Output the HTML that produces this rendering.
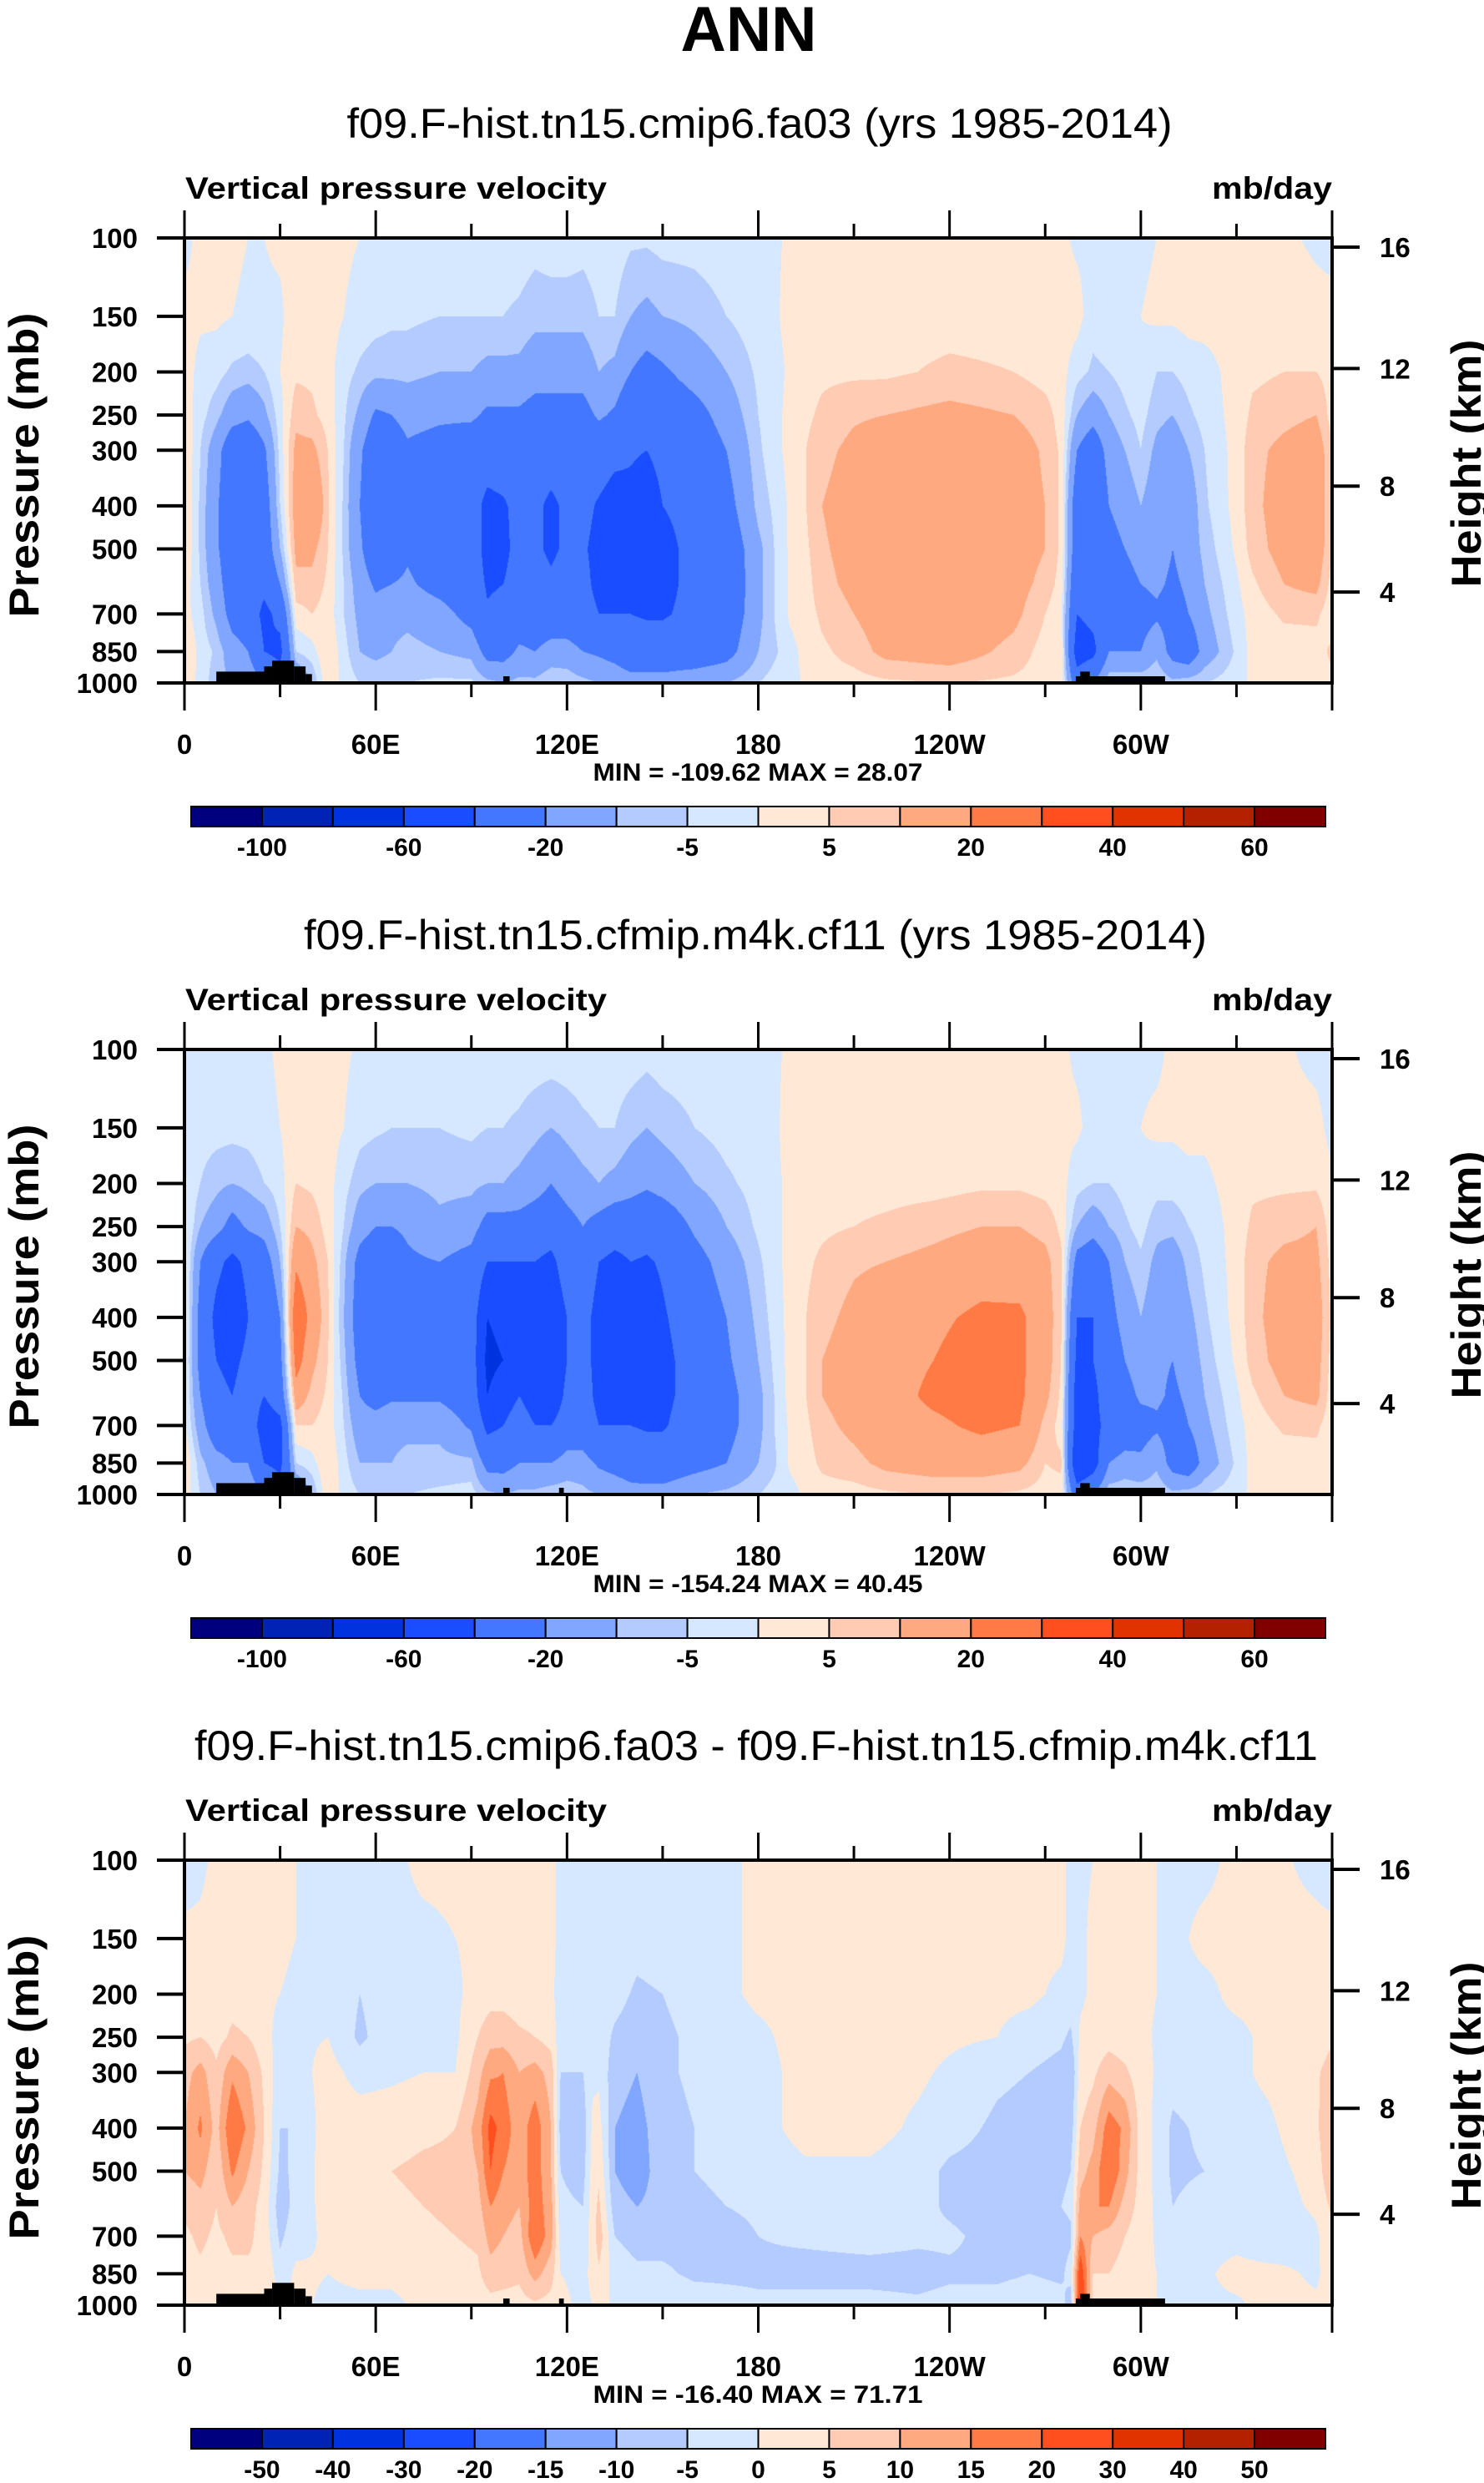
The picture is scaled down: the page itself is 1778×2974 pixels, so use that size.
<!DOCTYPE html>
<html><head><meta charset="utf-8">
<style>
html,body{margin:0;padding:0;background:#fff;}
#wrap{position:relative;width:1778px;height:2974px;overflow:hidden;background:#fff;}
canvas{position:absolute;}
svg{position:absolute;left:0;top:0;}
text{font-family:"Liberation Sans",Arial,sans-serif;fill:#000;}
</style></head>
<body>
<div id="wrap">
<canvas id="c1" width="1375" height="533" style="left:221px;top:285px"></canvas>
<canvas id="c2" width="1375" height="533" style="left:221px;top:1257px"></canvas>
<canvas id="c3" width="1375" height="533" style="left:221px;top:2228px"></canvas>
<svg id="ov" width="1778" height="2974"></svg>
</div>
<script>
// ---------------- data ----------------
const PLEV=[100,150,200,250,300,400,500,600,700,850,1000];
const P_TICKS=[100,150,200,250,300,400,500,700,850,1000];
const LON_TICKS=[0,60,120,180,240,300];
const LON_LABELS=['0','60E','120E','180','120W','60W'];
const H_TICKS=['16','12','8','4'];
const H_TICK_P=[103.5,194.0,356.5,616.6];
const LEV_A=[-100,-80,-60,-40,-20,-10,-5,0,5,10,20,30,40,50,60];
const LEV_D=[-50,-40,-30,-20,-15,-10,-5,0,5,10,15,20,30,40,50];
const CB_A_IDX=[0,2,4,6,8,10,12,14];
const CB_D_IDX=[0,1,2,3,4,5,6,7,8,9,10,11,12,13,14];
const COLORS=['#00007f','#0022b5','#0033e0','#1a4dff','#4477ff','#80a6ff','#b3cbff','#d6e8ff','#ffe9d6','#ffcbb3','#ffa980','#ff7a45','#ff4f1f','#e03300','#b32100','#800000'];
const TOPO=[[10,25,943],[25,27.5,918],[27.5,34.4,891],[34.4,38,918],[38,40,955],[100,102,966],[279.6,307.6,966],[281,284,943]];
const TOPO_EXTRA=[117.5,119,966];

const LONS1=[0,5,10,15,20,25,30,35,40,45,50,55,60,65,70,80,90,95,100,105,110,115,120,125,130,135,140,145,150,160,170,180,185,190,195,200,210,220,240,260,270,275,280,285,290,295,300,305,310,315,320,330,335,345,355,360];
const VALS1=[
[-2,2,3,3,5,5,5,3,2,6,4],[2,1,-2,-3,-5,-6,-6,-5,-3,-2,-2],[2,1,-3,-8,-15,-18,-18,-15,-12,-6,-8],[1,0,-6,-15,-30,-32,-30,-28,-25,-15,-10],[0,-1,-7,-18,-32,-35,-33,-30,-28,-20,-10],[0,-1,-5,-12,-22,-28,-30,-35,-45,-40,-20],[1,-1,0,-2,-3,-5,-10,-20,-35,-45,-30],[2,3,4,8,12,14,12,8,3,-5,-20],[3,3,4,6,12,20,12,8,5,-2,-10],[3,2,2,3,5,6,5,4,3,5,5],
[1,0,-3,-4,-5,-6,-6,-5,-5,-3,-2],[0,-2,-6,-12,-18,-20,-18,-14,-12,-10,-5],[-1,-3,-8,-22,-30,-32,-30,-22,-15,-12,-5],[-1,-4,-8,-20,-28,-30,-28,-20,-12,-10,-5],[-1,-4,-8,-16,-22,-25,-22,-18,-12,-8,-5],[-2,-5,-10,-18,-25,-30,-30,-25,-15,-10,-4],[-2,-5,-10,-18,-28,-32,-32,-30,-25,-12,-4],[-2,-5,-12,-22,-30,-45,-45,-42,-38,-25,-8],[-2,-5,-12,-22,-30,-42,-45,-40,-35,-25,-10],[-2,-6,-12,-22,-32,-35,-33,-32,-28,-18,-8],
[-3,-8,-15,-25,-35,-38,-38,-35,-30,-20,-8],[-2,-8,-15,-25,-35,-42,-42,-38,-30,-15,-5],[-2,-8,-15,-25,-35,-38,-38,-35,-30,-15,-6],[-3,-8,-15,-25,-32,-35,-38,-35,-32,-20,-8],[-2,-5,-10,-18,-30,-42,-45,-45,-40,-22,-10],[-2,-5,-12,-22,-35,-48,-50,-45,-40,-25,-12],[-4,-10,-20,-32,-38,-45,-48,-48,-40,-30,-15],[-4,-12,-25,-35,-40,-50,-50,-50,-42,-30,-15],[-3,-10,-22,-30,-35,-40,-45,-45,-42,-30,-15],[-3,-8,-15,-25,-30,-35,-35,-35,-35,-30,-12],
[-2,-5,-10,-15,-20,-25,-30,-32,-30,-25,-10],[-1,-2,-4,-5,-6,-8,-12,-12,-12,-10,-5],[-1,-1,-2,-2,-2,-4,-5,-5,-5,-6,-3],[1,2,1,2,2,1,1,1,1,-2,-2],[2,3,3,4,5,5,4,3,3,2,1],[2,3,4,6,8,10,9,8,6,4,3],[2,3,4,9,12,14,13,12,10,7,3],[2,3,4,10,15,16,15,15,14,12,4],[2,3,6,12,15,16,16,16,16,14,5],[2,3,5,10,14,14,14,13,12,8,4],
[1,2,3,7,9,10,10,8,5,3,3],[1,2,2,3,4,4,4,3,1,4,3],[-1,2,-3,-10,-20,-30,-30,-35,-40,-50,-30],[-1,-3,-6,-15,-30,-38,-30,-30,-35,-45,-20],[-1,-2,-5,-10,-15,-20,-25,-30,-35,-20,-5],[-1,-1,-3,-6,-10,-15,-20,-25,-30,-20,-5],[-1,0,-1,-3,-5,-10,-15,-20,-25,-20,-5],[0,1,-5,-8,-12,-15,-15,-18,-22,-12,-4],[1,1,-5,-10,-15,-20,-20,-22,-25,-25,-8],[1,2,-3,-6,-10,-15,-15,-18,-20,-30,-6],
[1,2,-2,-3,-5,-6,-8,-10,-12,-15,-5],[1,2,2,2,2,2,1,-1,-2,-4,-2],[2,3,4,6,8,8,7,4,2,2,1],[1,3,5,8,12,14,13,10,6,2,1],[-1,2,5,10,15,16,15,12,6,3,2],[-2,2,3,3,5,5,5,3,2,6,4]];

const LONS2=[0,5,10,15,20,25,30,35,40,45,50,55,60,65,70,80,90,95,100,105,110,115,120,125,130,135,140,145,150,160,170,180,185,190,195,200,210,220,235,250,262,270,275,280,285,290,295,300,305,310,315,320,330,335,345,355,360];
const VALS2=[
[-3,-2,1,2,3,4,3,2,2,5,3],[-2,-3,-5,-10,-20,-25,-25,-20,-15,-8,-5],[-2,-3,-8,-15,-35,-45,-40,-35,-30,-15,-10],[-2,-3,-10,-25,-45,-55,-45,-40,-30,-20,-10],[-1,-3,-8,-18,-35,-40,-35,-30,-28,-20,-10],[-1,-2,-5,-15,-28,-40,-40,-40,-50,-40,-20],[1,0,-2,-5,-10,-20,-25,-30,-45,-45,-30],[2,3,5,10,18,30,25,15,5,-5,-20],[3,3,4,8,12,16,12,8,5,-2,-10],[3,2,2,3,5,6,5,4,3,5,5],
[1,0,-3,-5,-8,-10,-8,-6,-5,-3,-2],[-1,-3,-8,-15,-25,-28,-25,-20,-15,-10,-5],[-2,-4,-10,-20,-30,-32,-30,-25,-15,-10,-5],[-2,-5,-10,-20,-28,-30,-30,-22,-12,-10,-5],[-2,-5,-10,-18,-22,-28,-25,-22,-12,-8,-5],[-2,-5,-8,-12,-20,-25,-25,-22,-12,-8,-4],[-2,-4,-8,-15,-25,-30,-30,-28,-22,-8,-3],[-2,-5,-10,-25,-40,-60,-65,-60,-45,-25,-8],[-2,-5,-10,-25,-40,-55,-60,-50,-40,-25,-10],[-2,-6,-12,-25,-40,-45,-45,-40,-30,-20,-8],
[-2,-8,-15,-28,-40,-50,-55,-50,-40,-20,-8],[-2,-10,-20,-30,-45,-55,-60,-55,-40,-20,-6],[-2,-8,-15,-25,-30,-40,-40,-35,-30,-15,-6],[-2,-6,-12,-20,-30,-35,-35,-32,-30,-15,-8],[-2,-5,-10,-25,-40,-45,-45,-45,-40,-22,-10],[-2,-5,-12,-30,-45,-50,-50,-45,-40,-25,-12],[-2,-8,-15,-30,-40,-45,-45,-45,-40,-28,-15],[-3,-10,-18,-32,-42,-48,-50,-48,-42,-30,-15],[-2,-8,-15,-30,-38,-42,-45,-45,-42,-30,-15],[-2,-5,-10,-18,-25,-30,-32,-32,-30,-25,-10],
[-2,-3,-6,-10,-15,-20,-22,-25,-25,-20,-8],[-1,-2,-3,-4,-6,-8,-10,-12,-12,-10,-5],[-1,-1,-1,-2,-2,-3,-4,-5,-5,-6,-3],[1,2,1,2,2,2,2,2,1,1,-2],[2,3,3,3,4,5,5,5,4,3,1],[2,3,3,4,6,8,10,10,8,6,3],[2,3,3,5,9,12,14,14,12,8,3],[2,3,3,6,10,15,16,16,16,12,4],[2,3,3,8,12,18,20,22,18,14,5],[2,3,4,10,15,22,25,25,22,14,5],
[2,3,4,10,14,22,22,22,20,12,4],[1,2,3,8,12,14,14,12,8,5,3],[1,1,2,4,6,6,5,4,3,6,3],[-1,1,-3,-10,-25,-40,-45,-50,-50,-60,-30],[-1,-2,-5,-15,-30,-40,-40,-45,-45,-50,-20],[-1,-2,-5,-10,-20,-25,-30,-30,-35,-20,-5],[-1,-1,-3,-6,-10,-15,-20,-25,-30,-15,-5],[-1,0,-1,-3,-6,-10,-14,-18,-25,-18,-5],[-1,1,-3,-8,-12,-15,-18,-18,-22,-12,-4],[1,1,-3,-8,-15,-20,-20,-22,-25,-25,-8],
[1,2,-2,-5,-8,-12,-15,-18,-20,-30,-6],[1,1,-1,-3,-4,-6,-8,-10,-12,-15,-5],[1,2,2,2,2,2,1,-1,-2,-4,-2],[1,3,4,6,8,8,7,4,2,2,1],[1,2,4,8,12,14,13,10,6,2,1],[-2,2,4,10,12,14,13,12,6,3,2],[-3,-2,1,2,3,4,3,2,2,5,3]];

const LONS3=[0,5,10,15,20,25,30,35,45,55,65,75,85,92,96,100,105,110,115,118,125,128,130,135,142,150,160,170,180,195,215,230,240,255,265,275,278,281,285,290,295,300,310,320,330,340,355,360];
const VALS3=[
[-2,1,2,4,8,10,10,6,4,3,2],[-1,1,2,5,12,16,12,8,6,4,3],[1,2,2,3,6,8,6,5,4,3,2],[1,2,3,6,14,20,16,10,6,4,2],[1,2,2,5,10,14,10,7,6,4,2],[1,1,1,2,4,5,4,3,3,5,3],[1,1,0,-2,-3,-5,-6,-8,-6,-3,1],[0,0,-1,-1,-2,-5,-4,-3,-2,1,1],[-1,-1,-1,0,2,3,3,2,1,0,-1],[-1,-2,-5,-6,-2,3,5,3,1,1,-1],
[-1,-1,-2,-2,-1,3,5,4,2,1,-1],[1,-1,-1,-1,0,4,6,5,4,2,1],[1,0,-1,-1,0,5,6,6,5,3,0],[1,1,2,5,8,12,10,8,6,4,2],[1,2,3,8,14,22,20,15,12,8,3],[1,2,3,8,15,18,15,12,10,7,3],[1,1,2,6,10,12,12,10,8,6,3],[1,1,2,5,12,18,18,18,20,12,4],[1,1,1,3,8,10,10,12,12,7,3],[-1,-1,-2,-3,-5,-7,-5,-4,-2,0,1],
[-1,-1,-2,-3,-5,-8,-7,-5,-3,-1,-1],[-1,-1,-1,-2,-1,1,2,3,2,1,0],[-1,-1,-2,-2,-1,2,4,6,8,4,2],[-1,-1,-3,-6,-8,-10,-10,-8,-5,-2,-1],[-1,-3,-6,-8,-10,-12,-13,-10,-7,-4,-1],[-1,-2,-5,-6,-6,-7,-7,-8,-7,-4,-1],[-1,-1,-3,-4,-4,-5,-5,-6,-7,-6,-2],[-1,-1,-1,-2,-2,-3,-4,-5,-7,-6,-3],[1,1,1,-1,-2,-2,-3,-4,-5,-6,-4],[1,1,1,2,2,2,-1,-3,-4,-7,-3],
[1,1,2,2,2,2,-1,-2,-3,-7,-3],[1,1,1,2,1,-1,-3,-3,-4,-7,-4],[1,1,1,1,-1,-3,-6,-6,-4,-6,-3],[1,1,1,0,-4,-6,-7,-8,-7,-6,-3],[1,1,1,-2,-5,-7,-8,-7,-9,-5,-2],[1,1,-1,-4,-7,-8,-6,-5,-7,-6,-3],[-1,-1,-2,-6,-10,-8,-5,-4,-6,-3,-8],[-1,-1,-1,1,2,5,8,12,15,25,30],[0,1,1,2,4,8,12,15,10,5,3],[0,1,1,3,8,18,20,15,8,5,3],
[1,1,1,2,6,14,12,8,5,3,2],[1,1,1,1,2,3,3,3,2,1,1],[-1,-1,-1,-2,-3,-6,-6,-5,-3,-1,-1],[-1,1,-1,-1,-2,-4,-5,-3,-2,-1,-1],[1,1,1,-1,-1,-2,-2,-3,-2,2,-1],[1,1,1,1,1,-1,-2,-3,-5,2,2],[-1,1,1,1,4,4,2,1,-1,-1,1],[-2,1,2,4,8,10,10,6,4,3,2]];

const SUBTITLES=['f09.F-hist.tn15.cmip6.fa03 (yrs 1985-2014)','f09.F-hist.tn15.cfmip.m4k.cf11 (yrs 1985-2014)','f09.F-hist.tn15.cmip6.fa03 - f09.F-hist.tn15.cfmip.m4k.cf11'];
const MINMAX=['MIN = -109.62  MAX =  28.07','MIN = -154.24  MAX =  40.45','MIN = -16.40  MAX = 71.71'];

// ---------------- geometry ----------------
const X0=221, W=1375, H=533;
const TOPS=[285,1257,2228];
function xOf(lon){return X0+lon/360*W;}
function yOf(p,top){return top+Math.log10(p/100)*H;}
function hex(c){return [parseInt(c.substr(1,2),16),parseInt(c.substr(3,2),16),parseInt(c.substr(5,2),16)];}
const RGB=COLORS.map(hex);

function drawField(cid,lons,vals,levs){
  const cv=document.getElementById(cid), ctx=cv.getContext('2d');
  const img=ctx.createImageData(W,H), d=img.data;
  const lp=PLEV.map(p=>Math.log10(p));
  const rowSeg=[];
  for(let y=0;y<H;y++){
    const l=2+(y+0.5)/H;
    let k=0; while(k<lp.length-2 && l>lp[k+1]) k++;
    let t=(l-lp[k])/(lp[k+1]-lp[k]); t=Math.max(0,Math.min(1,t));
    rowSeg.push([k,t]);
  }
  for(let x=0;x<W;x++){
    const lon=(x+0.5)/W*360;
    let j=0; while(j<lons.length-2 && lon>lons[j+1]) j++;
    let s=(lon-lons[j])/(lons[j+1]-lons[j]); s=Math.max(0,Math.min(1,s));
    const col=PLEV.map((_,i)=>vals[j][i]*(1-s)+vals[j+1][i]*s);
    for(let y=0;y<H;y++){
      const [k,t]=rowSeg[y];
      const v=col[k]*(1-t)+col[k+1]*t;
      let ci=0; while(ci<levs.length && v>=levs[ci]) ci++;
      const c=RGB[ci], o=(y*W+x)*4;
      d[o]=c[0];d[o+1]=c[1];d[o+2]=c[2];d[o+3]=255;
    }
  }
  ctx.putImageData(img,0,0);
}
drawField('c1',LONS1,VALS1,LEV_A);
drawField('c2',LONS2,VALS2,LEV_A);
drawField('c3',LONS3,VALS3,LEV_D);

// ---------------- svg overlay ----------------
const NS='http://www.w3.org/2000/svg';
const svg=document.getElementById('ov');
function mk(tag,attrs,parent){const e=document.createElementNS(NS,tag);for(const k in attrs)e.setAttribute(k,attrs[k]);(parent||svg).appendChild(e);return e;}
function txt(s,attrs,parent){const e=mk('text',attrs,parent);e.textContent=s;return e;}

let t=txt('ANN',{x:897,y:61,'text-anchor':'middle','font-size':76,'font-weight':'bold',textLength:163,lengthAdjust:'spacingAndGlyphs'});



const SUB_LEN=[989,1082,1346], SUB_X=[910,905,906];
for(let pi=0;pi<3;pi++){
  const top=TOPS[pi], bot=top+H;
  const g=mk('g',{});
  
  
  let e=txt(SUBTITLES[pi],{x:SUB_X[pi],y:top-120,'text-anchor':'middle','font-size':50,textLength:SUB_LEN[pi],lengthAdjust:'spacingAndGlyphs'},g);
  
  
  e=txt('Vertical pressure velocity',{x:222,y:top-47,'font-size':37,'font-weight':'bold',textLength:505,lengthAdjust:'spacingAndGlyphs'},g);
  
  
  e=txt('mb/day',{x:1596,y:top-47,'text-anchor':'end','font-size':37,'font-weight':'bold',textLength:144,lengthAdjust:'spacingAndGlyphs'},g);
  
  
  const topoSegs=pi===0?TOPO:TOPO.concat([TOPO_EXTRA]);
  topoSegs.forEach(s=>{
    const r=mk('rect',{x:xOf(s[0]),y:yOf(s[2],top),width:xOf(s[1])-xOf(s[0]),height:bot-yOf(s[2],top),fill:'#000'},g);
    
    
  });
  e=mk('rect',{x:X0,y:top,width:W,height:H,fill:'none',stroke:'#000','stroke-width':4},g);
  
  
  P_TICKS.forEach(p=>{
    const y=yOf(p,top);
    mk('line',{x1:X0-33,x2:X0,y1:y,y2:y,stroke:'#000','stroke-width':4},g);
    const l=txt(String(p),{x:165,y:y+12,'text-anchor':'end','font-size':33,'font-weight':'bold'},g);
    
    
  });
  H_TICKS.forEach((h,i)=>{
    const y=yOf(H_TICK_P[i],top)+3;
    mk('line',{x1:X0+W,x2:X0+W+33,y1:y,y2:y,stroke:'#000','stroke-width':4},g);
    const l=txt(h,{x:1653,y:y+12,'font-size':33,'font-weight':'bold'},g);
    
    
  });
  for(let lon=0;lon<=360;lon+=30){
    const x=xOf(lon), major=lon%60===0, len=major?33:17;
    mk('line',{x1:x,x2:x,y1:bot,y2:bot+len,stroke:'#000','stroke-width':3},g);
    mk('line',{x1:x,x2:x,y1:top,y2:top-len,stroke:'#000','stroke-width':3},g);
  }
  LON_TICKS.forEach((lon,i)=>{
    const l=txt(LON_LABELS[i],{x:xOf(lon),y:bot+85,'text-anchor':'middle','font-size':33,'font-weight':'bold'},g);
    
    
  });
  e=txt(MINMAX[pi],{x:908,y:bot+117,'text-anchor':'middle','font-size':30,'font-weight':'bold',textLength:395,lengthAdjust:'spacingAndGlyphs'},g);
  
  
  e=txt('Pressure (mb)',{x:0,y:0,'text-anchor':'middle','font-size':50,'font-weight':'bold',textLength:365,lengthAdjust:'spacingAndGlyphs',transform:`translate(46,${top+272}) rotate(-90)`},g);
  
  
  e=txt('Height (km)',{x:0,y:0,'text-anchor':'middle','font-size':50,'font-weight':'bold',textLength:297,lengthAdjust:'spacingAndGlyphs',transform:`translate(1774,${top+270}) rotate(-90)`},g);
  
  
  const cbx0=229, cbx1=1588, cbw=(cbx1-cbx0)/16, cby=bot+148, cbh=24;
  const levs=pi<2?LEV_A:LEV_D, idx=pi<2?CB_A_IDX:CB_D_IDX;
  const cb=mk('g',{},g);
  
  
  COLORS.forEach((c,i)=>{
    const r=mk('rect',{x:cbx0+i*cbw,y:cby,width:cbw,height:cbh,fill:c,stroke:'#000','stroke-width':2},cb);
    
    
  });
  idx.forEach(k=>{
    const l=txt(String(levs[k]),{x:cbx0+(k+1)*cbw,y:bot+207,'text-anchor':'middle','font-size':30,'font-weight':'bold'},cb);
    
    
  });
}
</script>
</body></html>
